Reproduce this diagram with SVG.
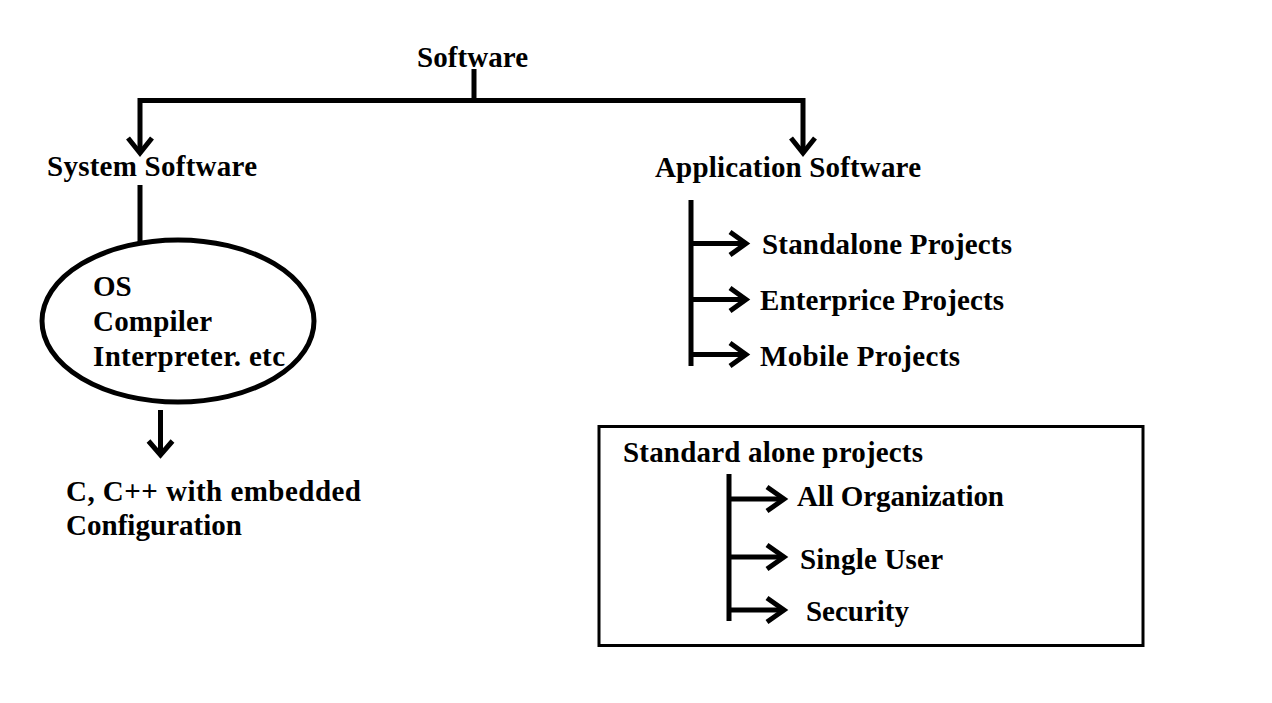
<svg xmlns="http://www.w3.org/2000/svg" width="1272" height="703" viewBox="0 0 1272 703">
<style>
text{font-family:"Liberation Serif","Times New Roman",serif;font-weight:bold;font-size:29px;fill:#000}
.ln{fill:none;stroke:#000;stroke-width:5;stroke-linecap:butt;stroke-linejoin:miter}
.hd{fill:none;stroke:#000;stroke-width:5;stroke-linejoin:miter}
</style>
<rect width="1272" height="703" fill="#fff"/>
<g id="connectors">
<path class="ln" d="M474,69 V100.5 M140,150 V100.5 H803 V150"/>
<path class="hd" d="M128,138 L140,153 L152,138 M791,138 L803,153 L815,138"/>
<path class="ln" d="M140,185 V242"/>
<path class="ln" d="M160.5,410 V452"/>
<path class="hd" d="M148.5,441 L160.5,455 L172.5,441"/>
<path class="ln" d="M691,200 V366"/>
<path class="ln" d="M693,243.5 H745 M693,299.5 H745 M693,354.5 H745"/>
<path class="hd" d="M730,232 L746,243.5 L730,255 M730,288 L746,299.5 L730,311 M730,343 L746,354.5 L730,366"/>
<path class="ln" d="M729,474 V621"/>
<path class="ln" d="M731,499 H783 M731,557 H783 M731,610 H783"/>
<path class="hd" d="M767,487 L784,499 L767,511 M767,545 L784,557 L767,569 M767,598 L784,610 L767,622"/>
</g>
<g id="software"><text x="417" y="67" textLength="111">Software</text></g>
<g id="system-software"><text x="47" y="176" textLength="210">System Software</text></g>
<g id="application-software"><text x="655" y="177" textLength="266">Application Software</text></g>
<g id="system-examples">
<ellipse cx="178" cy="321" rx="136" ry="81" class="ln"/>
<text x="93" y="296">OS</text>
<text x="93" y="331" textLength="119">Compiler</text>
<text x="93" y="366" textLength="192">Interpreter. etc</text>
</g>
<g id="c-config">
<text x="66" y="501" textLength="295">C, C++ with embedded</text>
<text x="66" y="535" textLength="176">Configuration</text>
</g>
<g id="standalone"><text x="762" y="254" textLength="250">Standalone Projects</text></g>
<g id="enterprice"><text x="760" y="310" textLength="244">Enterprice Projects</text></g>
<g id="mobile"><text x="760" y="366" textLength="200">Mobile Projects</text></g>
<g id="standard-alone-box">
<rect x="599" y="426.5" width="544" height="219" fill="none" stroke="#000" stroke-width="3"/>
<text x="623" y="462" textLength="300">Standard alone projects</text>
</g>
<g id="all-org"><text x="797" y="506" textLength="207">All Organization</text></g>
<g id="single-user"><text x="800" y="569" textLength="143">Single User</text></g>
<g id="security"><text x="806" y="621" textLength="103">Security</text></g>
</svg>
